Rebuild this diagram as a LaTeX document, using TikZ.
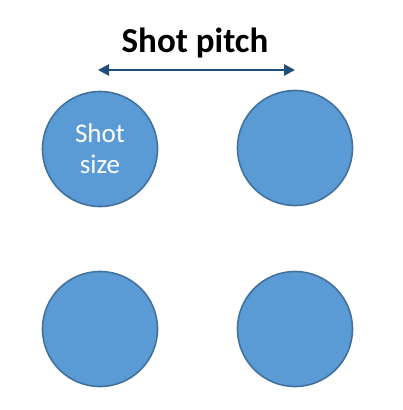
\documentclass[tikz,border=0pt]{standalone}
\usepackage{fontspec}
\setmainfont{Carlito}
\usetikzlibrary{positioning, arrows.meta}

\definecolor{shotfill}{HTML}{5B9BD5}
\definecolor{shotline}{HTML}{41719C}
\definecolor{pitchline}{HTML}{1F4E79}

\begin{document}
\begin{tikzpicture}[
    x=1pt, y=-1pt,
    shot/.style={draw=shotline, line width=1.6pt, fill=shotfill, circle, minimum size=115pt, inner sep=0pt, align=center, text=white, font=\fontsize{27}{31}\selectfont},
    arrow/.style={{Triangle[length=11pt, width=11pt]}-{Triangle[length=11pt, width=11pt]}, line width=2.6pt, draw=pitchline}
]
\useasboundingbox (0,0) rectangle (402,410);

% Shots
\node (s11) [shot] at (100,149) {Shot\\size};
\node (s12) [shot] at (295,148) {};
\node (s21) [shot] at (100,329) {};
\node (s22) [shot] at (295,329) {};

% Pitch
\coordinate (pleft) at (98,70);
\coordinate (pright) at (295,70);
\node (pitch) [font=\bfseries\fontsize{35}{40}\selectfont] at (195,43) {Shot pitch};

% Connections
\draw [arrow] (pleft) -- (pright);

\end{tikzpicture}
\end{document}
